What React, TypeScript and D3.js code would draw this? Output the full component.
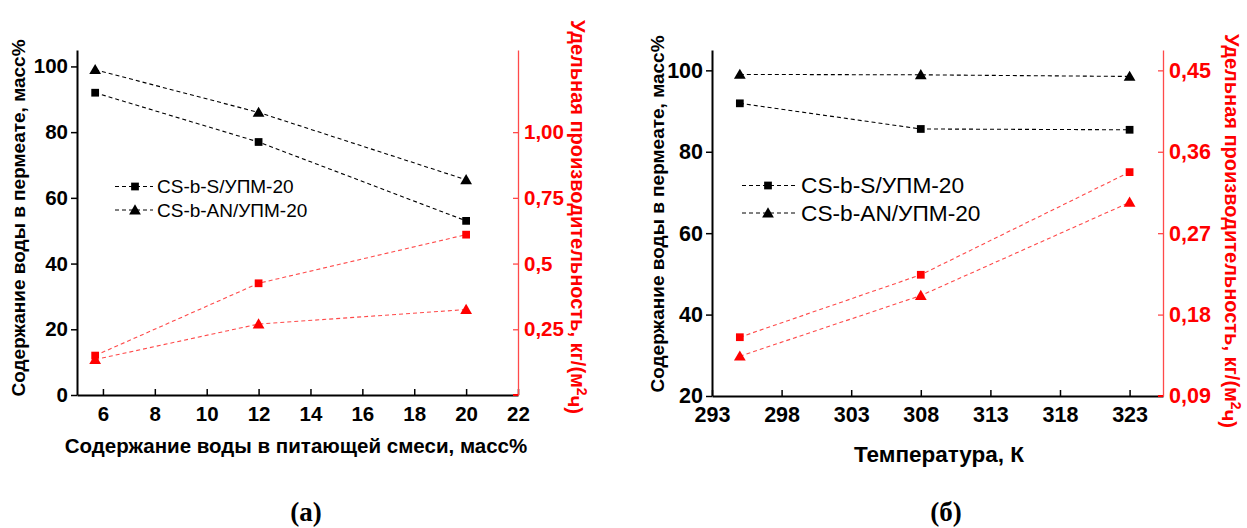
import React, { useEffect, useRef } from 'react';
import * as d3 from 'd3';

// ---- panel (a): water content in feed
const feedWater = [5.7, 12, 20];
const permWaterS_a = [92, 77, 53];
const permWaterAN_a = [99, 86, 65.5];
const fluxS_a = [0.15, 0.425, 0.61];
const fluxAN_a = [0.135, 0.27, 0.325];
const xTicksA = [6, 8, 10, 12, 14, 16, 18, 20, 22];
const xMinorA = [7, 9, 11, 13, 15, 17, 19, 21];
const yTicksA = [0, 20, 40, 60, 80, 100];
const yMinorA = [10, 30, 50, 70, 90];
const y2TicksA = [0.25, 0.5, 0.75, 1.0];
const y2LabelsA = ['0,25', '0,5', '0,75', '1,00'];
const y2MinorA = [0.125, 0.375, 0.625, 0.875, 1.125, 1.25];

// ---- panel (б): temperature
const temps = [295, 308, 323];
const permWaterS_b = [91.9, 85.6, 85.4];
const permWaterAN_b = [99, 98.9, 98.5];
const fluxS_b = [0.155, 0.224, 0.3375];
const fluxAN_b = [0.134, 0.201, 0.304];
const xTicksB = [293, 298, 303, 308, 313, 318, 323];
const xMinorB = [295.5, 300.5, 305.5, 310.5, 315.5, 320.5];
const yTicksB = [20, 40, 60, 80, 100];
const yMinorB = [30, 50, 70, 90];
const y2TicksB = [0.09, 0.18, 0.27, 0.36, 0.45];
const y2LabelsB = ['0,09', '0,18', '0,27', '0,36', '0,45'];
const y2MinorB = [0.135, 0.225, 0.315, 0.405];

const seriesNames = ['CS-b-S/УПМ-20', 'CS-b-AN/УПМ-20'];
const yTitle = 'Содержание воды в пермеате, масс%';
const y2Title = 'Удельная производительность, кг/(м';

const FONT = "'Liberation Sans', Arial, sans-serif";
const RED = '#ff0000';
const RED_LINE = '#ff4a4a';

function panel(svg: any, c: any) {
  const g = svg.append('g');
  const x = d3.scaleLinear().domain(c.xDomain).range(c.xRange);
  const y = d3.scaleLinear().domain(c.yDomain).range(c.yRange);
  const y2 = d3.scaleLinear().domain(c.y2Domain).range(c.yRange);
  const bottom = c.yRange[0];

  // bottom axis (ticks inward)
  const bx = g.append('g').attr('transform', `translate(0,${bottom})`);
  bx.call(d3.axisBottom(x).tickValues(c.xMinor).tickSize(-3).tickSizeOuter(0).tickFormat(() => ''));
  bx.call(d3.axisBottom(x).tickValues(c.xTicks).tickSize(-6).tickSizeOuter(0).tickPadding(10).tickFormat(d3.format('d')));
  bx.selectAll('text').attr('font-size', c.tickFont).attr('font-weight', 'bold').attr('font-family', FONT).attr('fill', '#000').attr('dy', '0.71em').attr('y', 11);
  bx.selectAll('path').attr('stroke', '#000').attr('stroke-width', 2);
  bx.selectAll('line').attr('stroke', '#000').attr('stroke-width', 1.5);

  // left axis (ticks outward)
  const lx = g.append('g').attr('transform', `translate(${c.xRange[0]},0)`);
  lx.call(d3.axisLeft(y).tickValues(c.yMinor).tickSize(4).tickSizeOuter(0).tickFormat(() => ''));
  lx.call(d3.axisLeft(y).tickValues(c.yTicks).tickSize(6).tickSizeOuter(0).tickPadding(3).tickFormat(d3.format('d')));
  lx.selectAll('text').attr('font-size', c.tickFont).attr('font-weight', 'bold').attr('font-family', FONT).attr('fill', '#000');
  lx.selectAll('path').attr('stroke', '#000').attr('stroke-width', 2);
  lx.selectAll('line').attr('stroke', '#000').attr('stroke-width', 1.5);

  // right axis, red (ticks inward)
  const rx = g.append('g').attr('transform', `translate(${c.xRange[1]},0)`);
  rx.call(d3.axisRight(y2).tickValues(c.y2Minor).tickSize(-4).tickSizeOuter(0).tickFormat(() => ''));
  rx.call(d3.axisRight(y2).tickValues(c.y2Ticks).tickSize(-5).tickSizeOuter(0).tickPadding(6)
    .tickFormat((d: any, i: number) => c.y2Labels[i]));
  rx.selectAll('text').attr('font-size', c.tickFont).attr('font-weight', 'bold').attr('font-family', FONT).attr('fill', RED);
  rx.selectAll('path').attr('stroke', RED_LINE).attr('stroke-width', 1.3);
  rx.selectAll('line').attr('stroke', RED_LINE).attr('stroke-width', 1.3);
  // small red tick at the bottom corner
  rx.append('line').attr('x1', -5).attr('x2', 0).attr('y1', bottom).attr('y2', bottom).attr('stroke', RED).attr('stroke-width', 2);

  // series
  const series = [
    { xs: c.xs, vs: c.s, sc: y, color: '#000', line: '#000', sym: d3.symbolSquare },
    { xs: c.xs, vs: c.an, sc: y, color: '#000', line: '#000', sym: d3.symbolTriangle },
    { xs: c.xs, vs: c.fs, sc: y2, color: RED, line: RED_LINE, sym: d3.symbolSquare },
    { xs: c.xs, vs: c.fan, sc: y2, color: RED, line: RED_LINE, sym: d3.symbolTriangle },
  ];
  series.forEach(s => {
    const pts = s.vs.map((v: number, i: number) => [x(s.xs[i]), s.sc(v)]);
    g.append('path').attr('d', d3.line()(pts)).attr('fill', 'none').attr('stroke', s.line)
      .attr('stroke-width', 1.1).attr('stroke-dasharray', '4,3');
    pts.forEach((p: number[]) => {
      g.append('path').attr('d', d3.symbol(s.sym, s.sym === d3.symbolSquare ? c.sq : c.tri)())
        .attr('transform', `translate(${p[0]},${p[1] + (s.sym === d3.symbolTriangle ? 1 : 0)})`).attr('fill', s.color);
    });
  });

  // legend
  seriesNames.forEach((name, i) => {
    const ly = c.legY[i];
    g.append('line').attr('x1', c.legX[0]).attr('x2', c.legX[2]).attr('y1', ly).attr('y2', ly)
      .attr('stroke', '#000').attr('stroke-width', 1).attr('stroke-dasharray', '4,3');
    g.append('path').attr('d', d3.symbol(i === 0 ? d3.symbolSquare : d3.symbolTriangle, i === 0 ? c.sq : c.tri)())
      .attr('transform', `translate(${c.legX[1]},${ly + (i === 1 ? 1 : 0)})`).attr('fill', '#000');
    g.append('text').attr('x', c.legX[3]).attr('y', ly).attr('dy', '0.35em').attr('font-size', c.legFont)
      .attr('font-family', FONT).attr('fill', '#000').text(name);
  });

  // titles
  g.append('text').attr('x', c.xTitlePos[0]).attr('y', c.xTitlePos[1]).attr('text-anchor', 'middle')
    .attr('font-size', c.xTitleFont).attr('font-weight', 'bold').attr('font-family', FONT).text(c.xTitle);
  g.append('text').attr('transform', `translate(${c.yTitlePos[0]},${c.yTitlePos[1]}) rotate(-90)`)
    .attr('text-anchor', 'middle').attr('dy', '0.35em').attr('font-size', c.yTitleFont)
    .attr('font-weight', 'bold').attr('font-family', FONT).text(yTitle);
  const t2 = g.append('text').attr('transform', `translate(${c.y2TitlePos[0]},${c.y2TitlePos[1]}) rotate(90)`)
    .attr('text-anchor', 'middle').attr('dy', '0.35em').attr('font-size', c.y2TitleFont)
    .attr('font-weight', 'bold').attr('font-family', FONT).attr('fill', RED);
  t2.append('tspan').text(y2Title);
  t2.append('tspan').attr('dy', '-0.45em').attr('font-size', c.y2TitleFont * 0.7).text('2');
  t2.append('tspan').attr('dy', '0.45em').text('ч)');

  // caption
  g.append('text').attr('x', c.capX).attr('y', 521).attr('text-anchor', 'middle')
    .attr('font-size', 27).attr('font-weight', 'bold').attr('font-family', "'Liberation Serif', 'Times New Roman', serif")
    .text(c.caption);
}

export default function App() {
  const ref = useRef<SVGSVGElement>(null);
  useEffect(() => {
    const svg = d3.select(ref.current);
    svg.selectAll('*').remove();
    panel(svg, {
      xDomain: [5, 22], xRange: [77, 518], yDomain: [0, 105], y2Domain: [0, 1.3125], yRange: [395, 50],
      xTicks: xTicksA, xMinor: xMinorA, yTicks: yTicksA, yMinor: yMinorA,
      y2Ticks: y2TicksA, y2Labels: y2LabelsA, y2Minor: y2MinorA,
      xs: feedWater, s: permWaterS_a, an: permWaterAN_a, fs: fluxS_a, fan: fluxAN_a,
      tickFont: 20.5, legFont: 19, sq: 60, tri: 60,
      legX: [115, 135, 153, 157], legY: [186.5, 210],
      xTitle: 'Содержание воды в питающей смеси, масс%', xTitlePos: [296, 453], xTitleFont: 20.5,
      yTitlePos: [18, 218], yTitleFont: 19, y2TitleFont: 20, y2TitlePos: [578, 217], caption: '(a)', capX: 306,
    });
    panel(svg, {
      xDomain: [293, 325.4], xRange: [712, 1163], yDomain: [20, 105], y2Domain: [0.09, 0.4725], yRange: [396, 50],
      xTicks: xTicksB, xMinor: xMinorB, yTicks: yTicksB, yMinor: yMinorB,
      y2Ticks: y2TicksB, y2Labels: y2LabelsB, y2Minor: y2MinorB,
      xs: temps, s: permWaterS_b, an: permWaterAN_b, fs: fluxS_b, fan: fluxAN_b,
      tickFont: 21.5, legFont: 22.7, sq: 60, tri: 60,
      legX: [742, 768, 797, 801], legY: [185.5, 213],
      xTitle: 'Температура, К', xTitlePos: [939, 461.5], xTitleFont: 22.5,
      yTitlePos: [657, 214], yTitleFont: 19, y2TitleFont: 20, y2TitlePos: [1232, 231], caption: '(б)', capX: 946,
    });
  }, []);
  return (
    <svg ref={ref} width={1247} height={528} style={{ position: 'absolute', left: 0, top: 0, background: '#fff' }} />
  );
}
